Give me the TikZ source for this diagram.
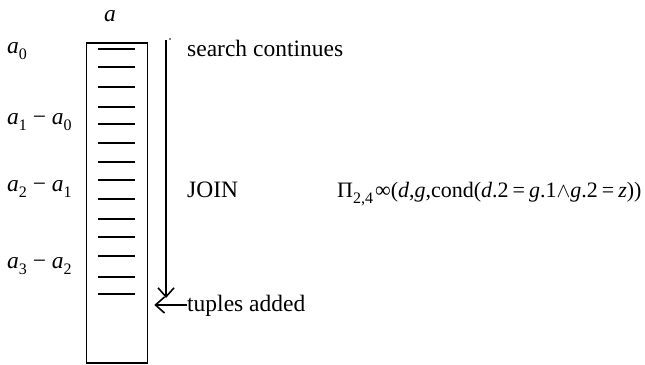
\documentclass[tikz,border=0pt]{standalone}
\usepackage{amsmath}
\usepackage{fontspec}
\setmainfont{Liberation Serif}
\usetikzlibrary{arrows.meta}
\newcommand{\sbs}[1]{\raisebox{-0.28em}{\fontsize{16}{16}\selectfont #1}}
\newcommand{\mi}[1]{\textit{#1}}
\tikzset{
  lbl/.style={inner sep=0pt, anchor=base west, font=\fontsize{23.5}{27}\selectfont},
  dashln/.style={line width=2.4pt},
  conn/.style={line width=1.6pt, -{Straight Barb[length=9pt,width=16pt,line width=1.6pt]}},
}
\begin{document}
\begin{tikzpicture}[x=1pt,y=-1pt]
\useasboundingbox (0,0) rectangle (645,364);
% column
\node[draw, line width=1.8pt, minimum width=61pt, minimum height=320pt, inner sep=0pt, anchor=north west] (col) at (85.5,42) {};
\foreach \y in {49,67,87,107,124,143,162,180,199,219,237,256,277,294}
  \draw[dashln] (98,\y) -- (135,\y);
% labels
\node[lbl, anchor=base] (ahead) at (110,21) {\mi{a}};
\node[lbl] (l0) at (7,53) {\mi{a}\sbs{0}};
\node[lbl] (l1) at (7,124) {\mi{a}\sbs{1} − \mi{a}\sbs{0}};
\node[lbl] (l2) at (7,191) {\mi{a}\sbs{2} − \mi{a}\sbs{1}};
\node[lbl] (l3) at (7,268) {\mi{a}\sbs{3} − \mi{a}\sbs{2}};
\node[lbl] (search) at (187,56) {search continues};
\node[lbl] (join) at (187,197) {JOIN};
\node[lbl, font=\fontsize{22}{26}\selectfont] (formula) at (337,197) {Π\sbs{2,4}\kern2pt∞(\mi{d},\mi{g},cond(\mi{d}.2\kern4pt=\kern4pt\mi{g}.1$\wedge$\mi{g}.2\kern4pt=\kern4pt\mi{z}))};
\node[lbl] (tup) at (187,311) {tuples added};
% arrows
\coordinate (stop) at (166,40);
\coordinate (sbot) at (166,298);
\fill (170,39) circle (0.9pt);
\draw[conn] (stop) -- (sbot);
\coordinate (tipL) at ([xshift=6pt]col.east |- 0,305);
\draw[conn] (tup.west |- 0,305) -- (tipL);
\end{tikzpicture}
\end{document}
